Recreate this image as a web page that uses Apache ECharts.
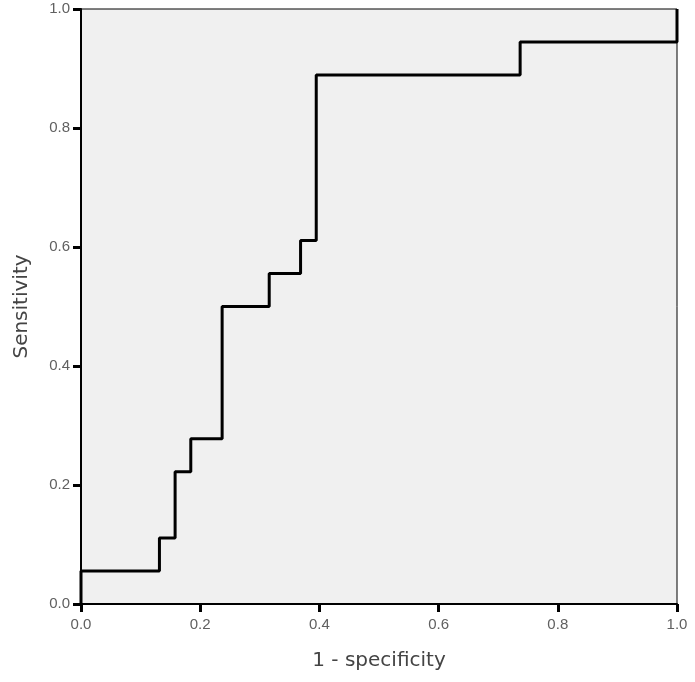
<!DOCTYPE html>
<html>
<head>
<meta charset="utf-8">
<script src="https://cdn.jsdelivr.net/npm/echarts@6/dist/echarts.min.js"></script>
<style>
  html, body { margin: 0; padding: 0; background: #fff; }
  #chart { width: 695px; height: 682px; }
</style>
</head>
<body>
<div id="chart"></div>
<script>
// ROC curve corners (1 - specificity, sensitivity)
const fpr = [0, 0, 0.1316, 0.1316, 0.1579, 0.1579, 0.1842, 0.1842, 0.2368, 0.2368,
  0.3158, 0.3158, 0.3684, 0.3684, 0.3947, 0.3947, 0.7368, 0.7368, 1, 1]
const tpr = [0, 0.0556, 0.0556, 0.1111, 0.1111, 0.2222, 0.2222, 0.2778, 0.2778, 0.5,
  0.5, 0.5556, 0.5556, 0.6111, 0.6111, 0.8889, 0.8889, 0.9444, 0.9444, 1]
const xName = '1 - specificity'
const yName = 'Sensitivity'

const chart = echarts.init(document.getElementById('chart'))
const font = 'Liberation Sans, Arial, sans-serif'

const axisCommon = {
  type: 'value',
  min: 0,
  max: 1,
  interval: 0.2,
  nameLocation: 'middle',
  nameTextStyle: { color: '#444', fontSize: 20, fontFamily: 'DejaVu Sans, sans-serif' },
  axisLine: { show: true, lineStyle: { color: '#000', width: 2 } },
  axisTick: { show: true, inside: false, length: 8, lineStyle: { color: '#000', width: 3 } },
  axisLabel: {
    color: '#606060',
    fontSize: 15,
    fontFamily: font,
    formatter: function(v) { return v.toFixed(1) }
  },
  splitLine: { show: false }
}

const option = {
  backgroundColor: '#fff',
  animation: false,
  grid: {
    left: 81,
    top: 9,
    right: 18,
    bottom: 78,
    show: true,
    backgroundColor: '#f0f0f0',
    borderColor: '#000',
    borderWidth: 1
  },
  xAxis: Object.assign({}, axisCommon, {
    name: xName,
    nameGap: 47,
    axisLabel: Object.assign({}, axisCommon.axisLabel, { margin: 13 })
  }),
  yAxis: Object.assign({}, axisCommon, {
    name: yName,
    nameGap: 49,
    axisLabel: Object.assign({}, axisCommon.axisLabel, { margin: 11 })
  }),
  series: [
    {
      type: 'line',
      data: fpr.map(function(x, i) { return [x, tpr[i]] }),
      symbol: 'none',
      clip: false,
      lineStyle: { color: '#000', width: 3 }
    }
  ]
}
chart.setOption(option)
</script>
</body>
</html>
